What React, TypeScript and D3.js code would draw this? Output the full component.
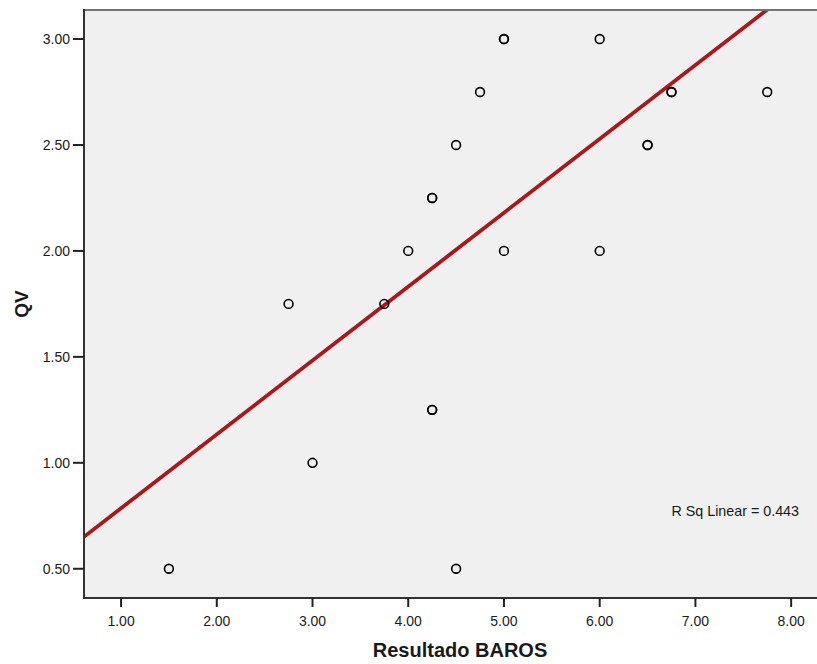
import React from "react";
import * as d3 from "d3";

// ---- data ----
const baros: number[] = [1.5, 2.75, 3.0, 3.75, 4.0, 4.25, 4.25, 4.25, 4.25, 4.5, 4.5, 4.75, 5.0, 5.0, 5.0, 6.0, 6.0, 6.5, 6.5, 6.75, 6.75, 7.75];
const qv: number[] = [0.5, 1.75, 1.0, 1.75, 2.0, 2.25, 2.25, 1.25, 1.25, 2.5, 0.5, 2.75, 3.0, 3.0, 2.0, 3.0, 2.0, 2.5, 2.5, 2.75, 2.75, 2.75];
const xTicks: number[] = [1, 2, 3, 4, 5, 6, 7, 8];
const yTicks: number[] = [0.5, 1.0, 1.5, 2.0, 2.5, 3.0];
const fitIntercept = 0.437;
const fitSlope = 0.3486;
const rSqLabel = "R Sq Linear = 0.443";
const xTitle = "Resultado BAROS";
const yTitle = "QV";

// ---- layout ----
const W = 817;
const H = 664;
const plotLeft = 84;
const plotRight = 817;
const plotTop = 10;
const plotBottom = 598;
const xDomain: [number, number] = [0.613, 8.27];
const yDomain: [number, number] = [0.362, 3.137];
const font = "Arial, 'Liberation Sans', Helvetica, sans-serif";

export default function App() {
  const x = d3.scaleLinear().domain(xDomain).range([plotLeft, plotRight]);
  const y = d3.scaleLinear().domain(yDomain).range([plotBottom, plotTop]);
  const fmt = d3.format(".2f");

  const lineX = [xDomain[0], d3.max(baros) as number];
  const linePath = d3
    .line<number>()
    .x((d) => x(d))
    .y((d) => y(fitIntercept + fitSlope * d))(lineX) as string;

  const points = baros.map((b, i) => ({ b, q: qv[i] }));

  return (
    <svg
      width={W}
      height={H}
      style={{ position: "absolute", left: 0, top: 0, background: "#ffffff" }}
      fontFamily={font}
    >
      <defs>
        <clipPath id="plotClip">
          <rect x={plotLeft} y={plotTop} width={plotRight - plotLeft} height={plotBottom - plotTop} />
        </clipPath>
      </defs>
      <rect x={plotLeft} y={plotTop} width={plotRight - plotLeft} height={plotBottom - plotTop} fill="#f0f0f0" />

      {/* regression line */}
      <path d={linePath} fill="none" stroke="#a8191e" strokeWidth={3.8} clipPath="url(#plotClip)" />

      {/* points */}
      <g clipPath="url(#plotClip)">
        {points.map((p, i) => (
          <circle key={i} cx={x(p.b)} cy={y(p.q)} r={4.4} fill="none" stroke="#000" strokeWidth={1.6} />
        ))}
      </g>

      {/* frame */}
      <line x1={plotLeft} x2={plotRight} y1={plotTop} y2={plotTop} stroke="#757575" strokeWidth={2} />
      <line x1={plotLeft} x2={plotLeft} y1={plotTop - 1} y2={plotBottom + 1} stroke="#333" strokeWidth={2} />
      <line x1={plotLeft - 1} x2={plotRight} y1={plotBottom} y2={plotBottom} stroke="#333" strokeWidth={2} />

      {/* x axis */}
      {xTicks.map((t) => (
        <g key={"x" + t}>
          <line x1={x(t)} x2={x(t)} y1={plotBottom} y2={plotBottom + 9} stroke="#222" strokeWidth={2} />
          <text x={x(t)} y={626} textAnchor="middle" fontSize={14} fill="#1a1a1a">
            {fmt(t)}
          </text>
        </g>
      ))}

      {/* y axis */}
      {yTicks.map((t) => (
        <g key={"y" + t}>
          <line x1={plotLeft - 11} x2={plotLeft} y1={y(t)} y2={y(t)} stroke="#222" strokeWidth={2} />
          <text x={70} y={y(t)} dy="0.36em" textAnchor="end" fontSize={14} fill="#1a1a1a">
            {fmt(t)}
          </text>
        </g>
      ))}

      {/* titles */}
      <text x={460} y={657} textAnchor="middle" fontSize={20} fontWeight="bold" fill="#1a1a1a">
        {xTitle}
      </text>
      <text
        transform={`translate(28, ${(y(yDomain[0]) + y(yDomain[1])) / 2}) rotate(-90)`}
        textAnchor="middle"
        fontSize={19}
        fontWeight="bold"
        fill="#1a1a1a"
      >
        {yTitle}
      </text>

      {/* R squared */}
      <text x={799} y={516} textAnchor="end" fontSize={14.3} fill="#1a1a1a">
        {rSqLabel}
      </text>
    </svg>
  );
}
